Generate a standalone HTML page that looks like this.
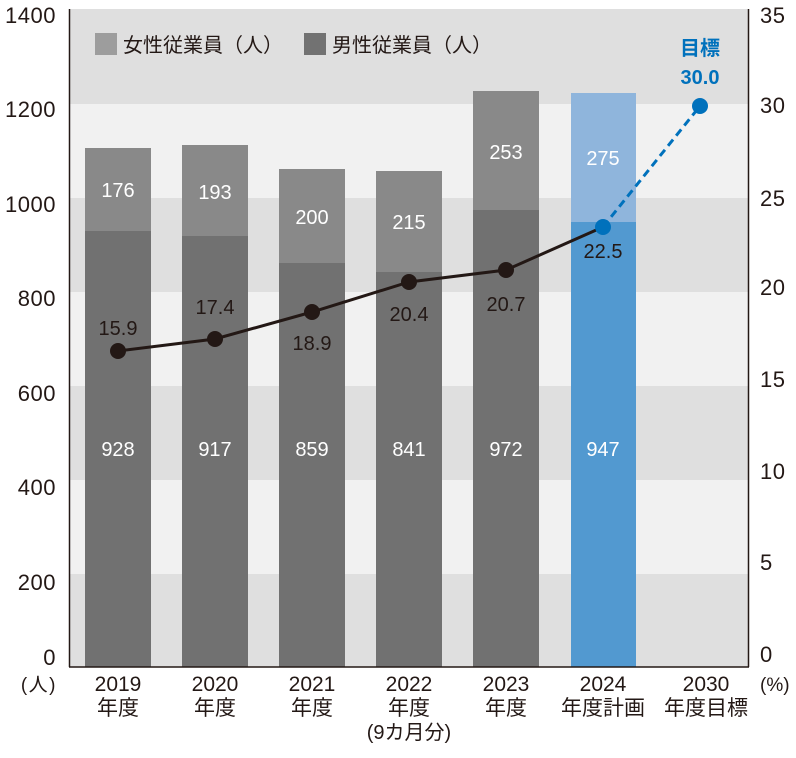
<!DOCTYPE html>
<html><head><meta charset="utf-8"><style>
html,body{margin:0;padding:0;background:#fff;}
svg{display:block;font-family:"Liberation Sans","Noto Sans CJK JP",sans-serif;}
</style></head><body>
<svg width="796" height="758" viewBox="0 0 796 758" xmlns="http://www.w3.org/2000/svg">
<!-- bands -->
<rect x="70" y="9" width="679" height="95" fill="#dfdfdf"/>
<rect x="70" y="104" width="679" height="94" fill="#f1f1f1"/>
<rect x="70" y="198" width="679" height="94" fill="#dfdfdf"/>
<rect x="70" y="292" width="679" height="94" fill="#f1f1f1"/>
<rect x="70" y="386" width="679" height="94" fill="#dfdfdf"/>
<rect x="70" y="480" width="679" height="94" fill="#f1f1f1"/>
<rect x="70" y="574" width="679" height="93" fill="#dfdfdf"/>

<!-- legend -->
<rect x="95" y="33" width="22" height="22" fill="#9d9d9d"/>
<text x="123" y="52" font-size="20" fill="#231815">女性従業員（人）</text>
<rect x="304" y="33" width="22" height="22" fill="#727272"/>
<text x="332" y="52" font-size="20" fill="#231815">男性従業員（人）</text>

<!-- bars -->
<g>
<rect x="85" y="148" width="66" height="83" fill="#898989"/>
<rect x="85" y="231" width="66" height="436" fill="#717171"/>
<rect x="182" y="145" width="66" height="91" fill="#898989"/>
<rect x="182" y="236" width="66" height="431" fill="#717171"/>
<rect x="279" y="169" width="66" height="94" fill="#898989"/>
<rect x="279" y="263" width="66" height="404" fill="#717171"/>
<rect x="376" y="171" width="66" height="101" fill="#898989"/>
<rect x="376" y="272" width="66" height="395" fill="#717171"/>
<rect x="473" y="91" width="66" height="119" fill="#898989"/>
<rect x="473" y="210" width="66" height="457" fill="#717171"/>
<rect x="571" y="93" width="65" height="129" fill="#8fb5dc"/>
<rect x="571" y="222" width="65" height="445" fill="#5299d0"/>
</g>

<!-- bar value labels -->
<g font-size="20" fill="#ffffff" text-anchor="middle">
<text x="118" y="197">176</text>
<text x="215" y="199">193</text>
<text x="312" y="224">200</text>
<text x="409" y="229">215</text>
<text x="506" y="159">253</text>
<text x="603" y="165">275</text>
<text x="118" y="456">928</text>
<text x="215" y="456">917</text>
<text x="312" y="456">859</text>
<text x="409" y="456">841</text>
<text x="506" y="456">972</text>
<text x="603" y="456">947</text>
</g>

<!-- line -->
<polyline points="118,351 215,339 312,312 409,282 506,270 603,227" fill="none" stroke="#231815" stroke-width="3"/>
<line x1="603" y1="227" x2="700" y2="106" stroke="#0071bc" stroke-width="3" stroke-dasharray="8,5"/>
<g fill="#231815">
<circle cx="118" cy="351" r="8"/>
<circle cx="215" cy="339" r="8"/>
<circle cx="312" cy="312" r="8"/>
<circle cx="409" cy="282" r="8"/>
<circle cx="506" cy="270" r="8"/>
</g>
<circle cx="603" cy="227" r="8" fill="#0071bc"/>
<circle cx="700" cy="106" r="8" fill="#0071bc"/>

<!-- line labels -->
<g font-size="20" fill="#231815" text-anchor="middle">
<text x="118" y="335">15.9</text>
<text x="215" y="314">17.4</text>
<text x="312" y="350">18.9</text>
<text x="409" y="321">20.4</text>
<text x="506" y="311">20.7</text>
<text x="603" y="258">22.5</text>
</g>
<g font-size="20" fill="#0071bc" text-anchor="middle" font-weight="bold">
<text x="700" y="55">目標</text>
<text x="700" y="84">30.0</text>
</g>

<!-- axes -->
<line x1="69.5" y1="9" x2="69.5" y2="667" stroke="#231815" stroke-width="1.5"/>
<line x1="748.5" y1="9" x2="748.5" y2="667" stroke="#231815" stroke-width="1.5"/>
<line x1="69" y1="667" x2="749" y2="667" stroke="#231815" stroke-width="1.5"/>

<!-- left axis labels -->
<g font-size="22" fill="#231815" text-anchor="end" letter-spacing="0.5">
<text x="56" y="23">1400</text>
<text x="56" y="117">1200</text>
<text x="56" y="212">1000</text>
<text x="56" y="306">800</text>
<text x="56" y="401">600</text>
<text x="56" y="495">400</text>
<text x="56" y="590">200</text>
<text x="56" y="665">0</text>
</g>
<text x="57" y="691" font-size="19" fill="#231815" text-anchor="end" letter-spacing="1.5">(人)</text>

<!-- right axis labels -->
<g font-size="22" fill="#231815" text-anchor="start" letter-spacing="0.5">
<text x="760" y="23">35</text>
<text x="760" y="113">30</text>
<text x="760" y="206">25</text>
<text x="760" y="295">20</text>
<text x="760" y="387">15</text>
<text x="760" y="479">10</text>
<text x="760" y="570">5</text>
<text x="760" y="662">0</text>
</g>
<text x="760" y="691" font-size="19" fill="#231815">(%)</text>

<!-- x labels -->
<g font-size="21" fill="#231815" text-anchor="middle">
<text x="118" y="691">2019</text><text x="118" y="715">年度</text>
<text x="215" y="691">2020</text><text x="215" y="715">年度</text>
<text x="312" y="691">2021</text><text x="312" y="715">年度</text>
<text x="409" y="691">2022</text><text x="409" y="715">年度</text><text x="409" y="739" font-size="20">(9カ月分)</text>
<text x="506" y="691">2023</text><text x="506" y="715">年度</text>
<text x="603" y="691">2024</text><text x="603" y="715">年度計画</text>
<text x="706" y="691">2030</text><text x="706" y="715">年度目標</text>
</g>
</svg>
</body></html>
